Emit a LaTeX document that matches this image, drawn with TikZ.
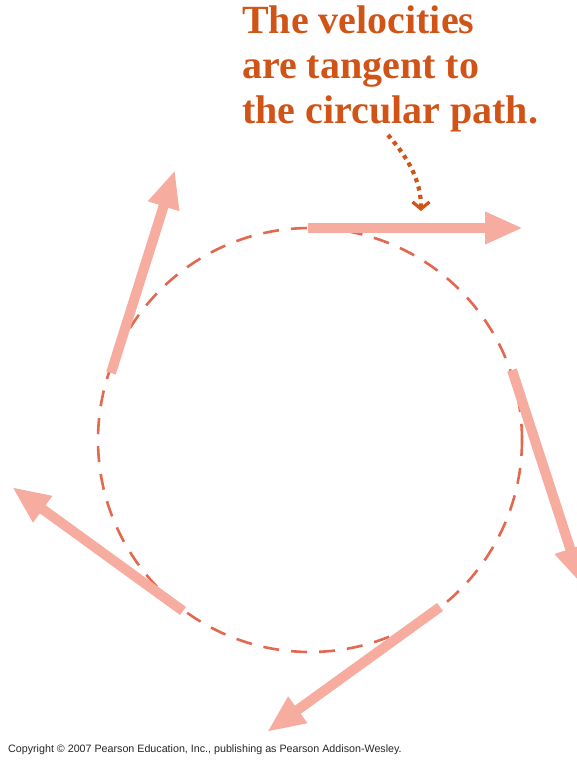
\documentclass[tikz,border=0pt]{standalone}
\usepackage{fontspec}
\setmainfont{Liberation Serif}
\newfontfamily\copyfont{Liberation Sans}
\usetikzlibrary{arrows.meta}
\definecolor{pathRed}{RGB}{226,104,80}
\definecolor{veloPink}{RGB}{247,172,160}
\definecolor{noteOrange}{RGB}{208,84,24}
\tikzset{
  velo/.style={draw=veloPink,line width=10pt,-{Triangle[width=30pt,length=38pt]}},
  orbit/.style={draw=pathRed,line width=2.6pt,dash pattern=on 16pt off 12pt},
  pointer/.style={draw=noteOrange,line width=4.2pt,dash pattern=on 4.2pt off 4.4pt,
    -{Straight Barb[width=17pt,length=7pt,line width=3.2pt]}}
}

\begin{document}
\begin{tikzpicture}[x=1pt,y=-1pt]
\useasboundingbox (0,0) rectangle (577,760);
\clip (0,0) rectangle (577,760);
\coordinate (O) at (310,440);
\draw[orbit] (O) circle[radius=212];
\coordinate (v1s) at (308,228);  \coordinate (v1e) at (523,228);
\coordinate (v2s) at (512,370);  \coordinate (v2e) at (582,585);
\coordinate (v3s) at (440,607);  \coordinate (v3e) at (267,732);
\coordinate (v4s) at (183,611);  \coordinate (v4e) at (12,487);
\coordinate (v5s) at (111,373);  \coordinate (v5e) at (175,170);
\foreach \i in {1,...,5}
  \draw[velo] (v\i s) -- (v\i e);
\node[anchor=north west,inner sep=0pt,align=left,text=noteOrange,
  font=\fontsize{40}{45}\selectfont\bfseries] (note) at (242,6)
  {The velocities\\are tangent to\\the circular path.};
\coordinate (ptrA) at (388,135);
\coordinate (ptrB) at (421,211);
\draw[pointer] (ptrA) .. controls (408,158) and (421,180) .. (ptrB);
\node[anchor=base west,inner sep=0pt,font=\copyfont\fontsize{10.7}{12}\selectfont,
  text=black!85] (copy) at (8,752)
  {Copyright \textcopyright{} 2007 Pearson Education, Inc., publishing as Pearson Addison-Wesley.};
\end{tikzpicture}
\end{document}
